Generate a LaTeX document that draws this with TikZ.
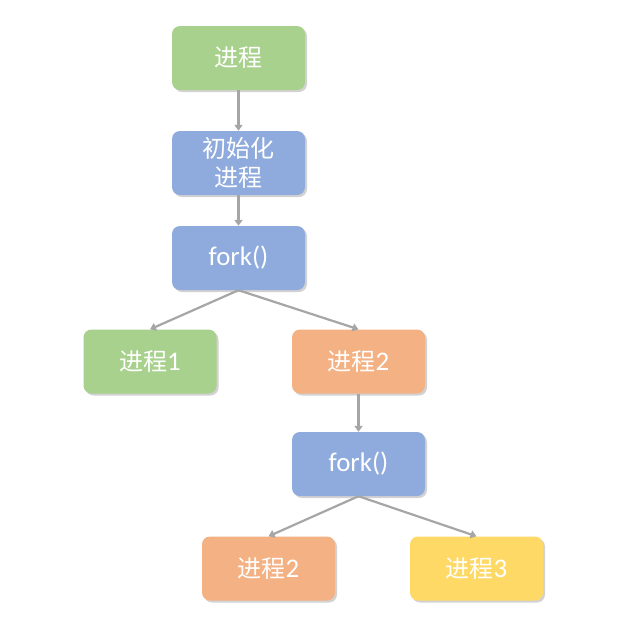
\documentclass[tikz,border=0pt]{standalone}
\usepackage{fontspec}
\setmainfont{Carlito}[Scale=1.12]
\newfontfamily\cjk{Noto Sans CJK SC}
\usetikzlibrary{arrows.meta,shadows}
\definecolor{bgreen}{HTML}{A9D18E}
\definecolor{bblue}{HTML}{8FAADC}
\definecolor{borange}{HTML}{F4B183}
\definecolor{byellow}{HTML}{FFD966}
\definecolor{arrgray}{HTML}{A6A6A6}
\tikzset{
  box/.style={rounded corners=8pt, minimum width=133pt, minimum height=64pt,
    text=white, font=\fontsize{24}{28.5}\selectfont, align=center, inner sep=0pt,
    drop shadow={shadow xshift=2pt, shadow yshift=-2pt, opacity=0.35, fill=black!50}},
  arr/.style={draw=arrgray, line width=2.2pt, -{Triangle[width=8pt,length=6pt]}}
}
\begin{document}
\begin{tikzpicture}[x=1pt,y=1pt]
\useasboundingbox (0,0) rectangle (628,-633);
\fill[white] (0,0) rectangle (628,-633);
\node[box, fill=bgreen] (p0) at (238.5,-58) {\cjk 进程};
\node[box, fill=bblue] (init) at (238.5,-163) {\cjk 初始化\\\cjk 进程};
\node[box, fill=bblue] (f1) at (238.5,-258) {fork()};
\node[box, fill=bgreen] (p1) at (150,-361.5) {{\cjk 进程}1};
\node[box, fill=borange] (p2) at (358.5,-361.5) {{\cjk 进程}2};
\node[box, fill=bblue] (f2) at (358.5,-464) {fork()};
\node[box, fill=borange] (p2b) at (268.5,-568.5) {{\cjk 进程}2};
\node[box, fill=byellow] (p3) at (476.5,-568.5) {{\cjk 进程}3};
\draw[arr] (p0) -- (init);
\draw[arr] (init) -- (f1);
\draw[arr] (f1.south) -- (p1.north);
\draw[arr] (f1.south) -- (p2.north);
\draw[arr] (p2) -- (f2);
\draw[arr] (f2.south) -- (p2b.north);
\draw[arr] (f2.south) -- (p3.north);
\end{tikzpicture}
\end{document}
